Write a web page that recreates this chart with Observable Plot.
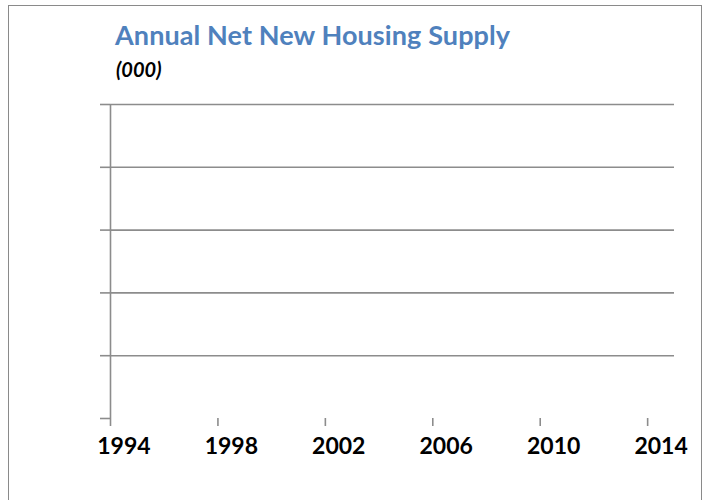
<!DOCTYPE html>
<html><head><meta charset="utf-8">
<script src="https://cdn.jsdelivr.net/npm/d3@7"></script>
<script src="https://cdn.jsdelivr.net/npm/@observablehq/plot@0.6"></script>
<style>
body{margin:0;background:#fff;}
#wrap{position:relative;width:707px;height:500px;overflow:hidden;font-family:Lato,sans-serif;}
#frame{position:absolute;left:8px;top:5px;width:694px;height:520px;border:1.5px solid #8a8a8a;box-sizing:border-box;}
#title{position:absolute;left:115px;top:20px;font-size:27px;font-weight:700;color:#4F81BD;letter-spacing:0.1px;white-space:nowrap;line-height:30px;}
#sub{position:absolute;left:116px;top:57px;font-size:20px;font-weight:700;font-style:italic;color:#000;line-height:24px;}
#chart{position:absolute;left:0;top:0;}
</style></head><body>
<div id="wrap"><div id="frame"></div><div id="title">Annual Net New Housing Supply</div><div id="sub">(000)</div><div id="chart"></div></div>
<script>
// Categories (years) shown on the horizontal axis
const years = [1994,1995,1996,1997,1998,1999,2000,2001,2002,2003,2004,2005,2006,2007,2008,2009,2010,2011,2012,2013,2014];
// The reference chart shows no data series
const supply = [];
const xTickYears = [1994,1998,2002,2006,2010,2014];
const yTicks = [0,1,2,3,4,5];
const yGrid = [1,2,3,4,5];

const axisColor = "#8c8c8c";

const chart = Plot.plot({
  width: 707,
  height: 500,
  marginTop: 104,
  marginBottom: 82,
  marginLeft: 110,
  marginRight: 33,
  style: {fontFamily: "Lato, sans-serif", background: "transparent"},
  x: {type: "linear", domain: [years[0], years[years.length - 1] + 1], label: null},
  y: {domain: [yTicks[0], yTicks[yTicks.length - 1]], label: null},
  marks: [
    Plot.gridY(yGrid, {stroke: axisColor, strokeOpacity: 1, strokeWidth: 1.6}),
    Plot.axisY({ticks: yTicks, tickSize: 10, tickFormat: () => "", label: null, stroke: axisColor, strokeWidth: 1.6}),
    Plot.ruleX([years[0]], {stroke: axisColor, strokeWidth: 1.6}),
    Plot.axisX({ticks: xTickYears, tickSize: 8, tickFormat: () => "", label: null, stroke: axisColor, strokeWidth: 1.6}),
    Plot.text(xTickYears, {x: d => d + 0.5, text: d => String(d), frameAnchor: "bottom", dy: 35, fontSize: 23, fontWeight: 700, fill: "#000"}),
    Plot.lineY(supply, {x: "year", y: "value", stroke: "#4F81BD"})
  ]
});
document.getElementById("chart").appendChild(chart);
</script>
</body></html>
